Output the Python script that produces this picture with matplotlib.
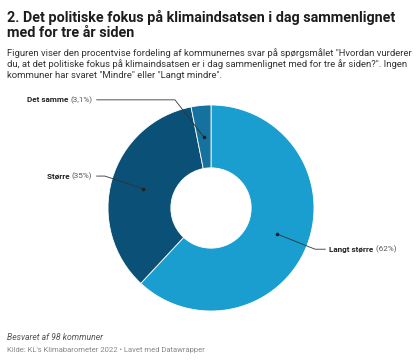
import numpy as np
import matplotlib.pyplot as plt

plt.rcParams['font.family'] = ['Roboto', 'DejaVu Sans']

labels = ['Langt større', 'Større', 'Det samme']
values = [62, 35, 3.1]
value_text = ['62%', '35%', '3,1%']
colors = ['#1a9dcf', '#0a5077', '#15719d']

TITLE = 'Det politiske fokus på klimaindsatsen i dag sammenlignet\nmed for tre år siden'
SUBTITLE = ('Figuren viser den procentvise fordeling af kommunernes svar på spørgsmålet "Hvordan vurderer\n'
            'du, at det politiske fokus på klimaindsatsen er i dag sammenlignet med for tre år siden?". Ingen\n'
            'kommuner har svaret "Mindre" eller "Langt mindre".')
NOTE = 'Besvaret af 98 kommuner'
SOURCE = 'Kilde: KL\'s Klimabarometer 2022 • Lavet med Datawrapper'

W, H = 420, 361
fig = plt.figure(figsize=(W / 100, H / 100), dpi=100)

# donut: centre (211, 208) px, radius 103 px
cx, cy, r = 211, 208, 103
ax = fig.add_axes([(cx - r) / W, (H - cy - r) / H, 2 * r / W, 2 * r / H])
wedges, _ = ax.pie(values, colors=colors, startangle=90, counterclock=False,
                   radius=1, wedgeprops=dict(width=0.61, edgecolor='white', linewidth=0.6))
ax.set_xlim(-1, 1)
ax.set_ylim(-1, 1)
ax.set_aspect('equal')
ax.axis('off')

# label layout: (elbow x, label y, text x, alignment) in data units
layout = {
    'Langt større': (1.01, -0.40, 1.15, 'left'),
    'Større': (-1.03, 0.31, -1.15, 'right'),
    'Det samme': (-0.35, 1.05, -1.15, 'right'),
}
FS = 5.9

for w, lab, vt in zip(wedges, labels, value_text):
    ang = np.deg2rad((w.theta1 + w.theta2) / 2)
    px, py = 0.69 * np.cos(ang), 0.69 * np.sin(ang)
    ex, ly, tx, ha = layout[lab]
    end_x = tx - 0.04 if ha == 'left' else tx + 0.04
    ax.plot([px, ex, end_x], [py, ly, ly], color='#333333', lw=0.6, clip_on=False)
    ax.plot(px, py, 'o', ms=1.6, color='#222222', clip_on=False)
    if ha == 'left':
        t = ax.text(tx, ly, lab, fontsize=FS, fontweight='bold', color='#222222',
                    ha='left', va='center', clip_on=False)
        ax.annotate(' (' + vt + ')', xycoords=t, xy=(1, 0.5), va='center', ha='left',
                    fontsize=FS, color='#555555', annotation_clip=False)
    else:
        t = ax.text(tx, ly, '(' + vt + ')', fontsize=FS, color='#555555',
                    ha='right', va='center', clip_on=False)
        ax.annotate(lab + ' ', xycoords=t, xy=(0, 0.5), va='center', ha='right',
                    fontsize=FS, fontweight='bold', color='#222222', annotation_clip=False)

fig.text(7 / W, 1 - 10 / H, '2. ' + TITLE, fontsize=10.4, fontweight='bold', color='#1d1d1d',
         va='top', ha='left', linespacing=1.08)
fig.text(7 / W, 1 - 48 / H, SUBTITLE, fontsize=6.8, color='#333333',
         va='top', ha='left', linespacing=1.22)
fig.text(7 / W, 1 - 337 / H, NOTE, fontsize=6.2, style='italic', color='#555555',
         va='center', ha='left')
fig.text(7 / W, 1 - 350 / H, SOURCE, fontsize=5.5, color='#888888',
         va='center', ha='left')

fig.savefig('out.png', dpi=100)
